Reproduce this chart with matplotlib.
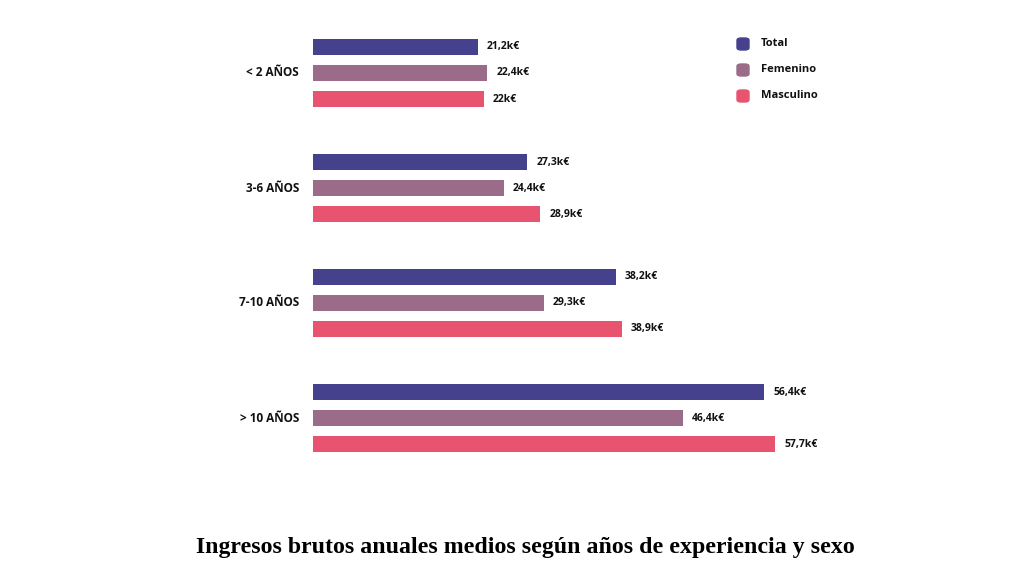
import matplotlib.pyplot as plt
from matplotlib.patches import FancyBboxPatch

grupos = ['< 2 AÑOS', '3-6 AÑOS', '7-10 AÑOS', '> 10 AÑOS']
series = ['Total', 'Femenino', 'Masculino']
total = [21.2, 27.3, 38.2, 56.4]
femenino = [22.4, 24.4, 29.3, 46.4]
masculino = [22.0, 28.9, 38.9, 57.7]
colores = ['#45418c', '#9a6c89', '#e8546f']

valores = [total, femenino, masculino]


def fmt(v):
    s = f"{v:.1f}".replace('.', ',')
    if s.endswith(',0'):
        s = s[:-2]
    return s + 'k€'


fig = plt.figure(figsize=(10.24, 5.76), dpi=100)
W, H = 1024, 576
ax = fig.add_axes([313 / W, 1 - 480 / H, (1000 - 313) / W, 460 / H])

paso = 115 / 26  # separacion entre grupos, en alturas de barra
for g, nombre in enumerate(grupos):
    centro = g * paso
    for k in range(3):
        y = centro + (k - 1)
        v = valores[k][g]
        ax.barh(y, v, height=0.64, color=colores[k])
        ax.text(v + 1.1, y, fmt(v), va='center', ha='left',
                fontsize=7.5, fontweight='bold', family='Open Sans', color='#111111')
    ax.text(-14 / 687, centro, nombre, transform=ax.get_yaxis_transform(),
            ha='right', va='center', fontsize=8.5, fontweight='bold',
            family='Open Sans', color='#111111')

ax.set_xlim(1.0, 85.3)
ax.set_ylim((480 - 73) / 26, (20 - 73) / 26)
ax.axis('off')

# leyenda
for k, s in enumerate(series):
    yp = 44 + 26 * k
    fig.patches.append(FancyBboxPatch((737 / W, 1 - (yp + 6) / H), 12 / W, 12 / H,
                                      boxstyle='round,pad=0,rounding_size=0.004',
                                      transform=fig.transFigure, color=colores[k]))
    fig.text(761 / W, 1 - yp / H, s, ha='left', va='center', fontsize=8,
             fontweight='bold', family='Open Sans', color='#111111')

fig.text(525 / W, 1 - 548 / H, 'Ingresos brutos anuales medios según años de experiencia y sexo',
         ha='center', va='center', fontsize=17.2, fontweight='bold', family='Liberation Serif')

fig.savefig('out.png', dpi=100)
